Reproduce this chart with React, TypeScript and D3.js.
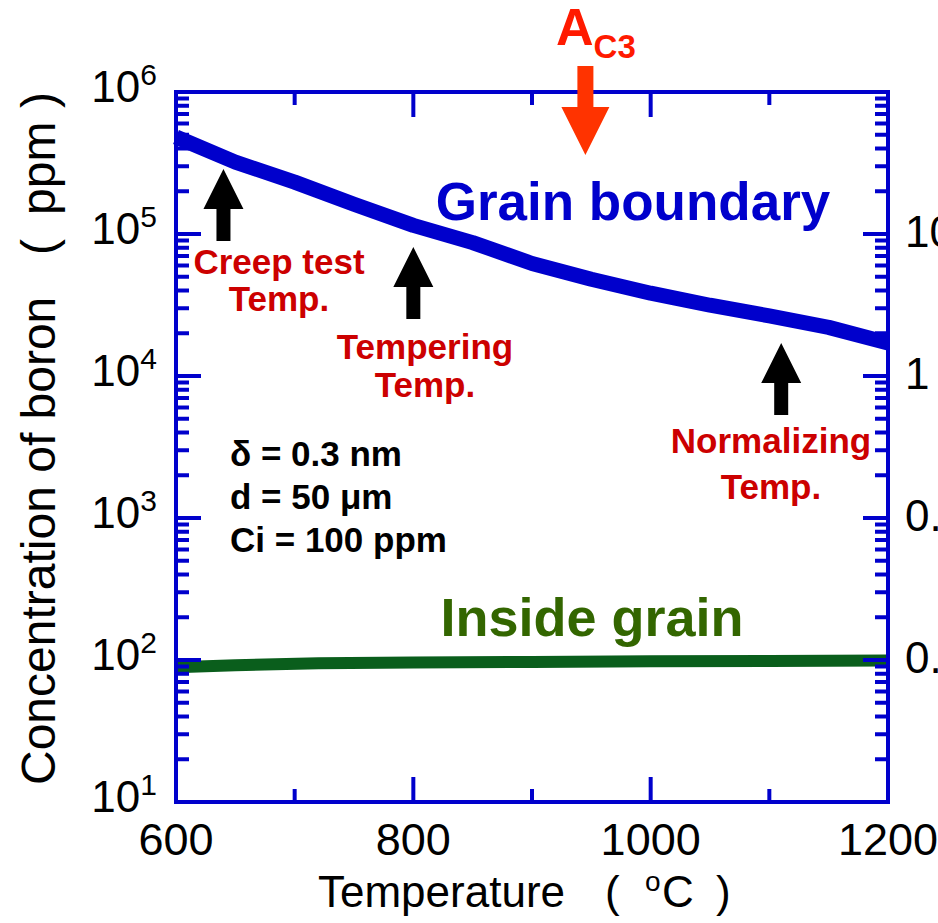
import React from "react";
import * as d3 from "d3";

const gbTemp = [600, 650, 700, 750, 800, 850, 900, 950, 1000, 1050, 1100, 1150, 1200];
const gbConc = [482000, 321000, 232000, 162000, 115000, 87000, 62000, 48000, 38300, 31500, 26500, 22000, 17100];
const igTemp = [600, 650, 720, 800, 900, 1000, 1100, 1200];
const igConc = [89, 92, 95, 96, 97, 98, 98.5, 99];

const xTicks = [600, 800, 1000, 1200];
const xMinorTicks = [700, 900, 1100];
const yExponents = [1, 2, 3, 4, 5, 6];
const rightLabels = [
  { v: 1e5, t: "10" },
  { v: 1e4, t: "1" },
  { v: 1e3, t: "0.1" },
  { v: 1e2, t: "0.01" },
];
const markers = [
  { T: 640, lines: ["Creep test", "Temp."] },
  { T: 800, lines: ["Tempering", "Temp."] },
  { T: 1110, lines: ["Normalizing", "Temp."] },
];
const ac3Temp = 945;
const params = ["δ = 0.3 nm", "d = 50 μm", "Ci = 100 ppm"];

const W = 938, H = 923;
const L = 176, R = 888, T = 92, B = 802;
const BLUE = "#0000cc";

export default function App() {
  const x = d3.scaleLinear().domain([600, 1200]).range([L, R]);
  const y = d3.scaleLog().domain([10, 1e6]).range([B, T]);
  const line = d3.line<[number, number]>().x(d => x(d[0])).y(d => y(d[1]));
  const gbData = gbTemp.map((t, i) => [t, gbConc[i]] as [number, number]);
  const igData = igTemp.map((t, i) => [t, igConc[i]] as [number, number]);

  const yMinor: number[] = [];
  for (let k = 1; k < 6; k++) for (let m = 2; m <= 9; m++) yMinor.push(m * Math.pow(10, k));

  const upArrow = (cx: number, tip: number) => {
    const hw = 20, sw = 7, head = 40, len = 72;
    return `M${cx},${tip} L${cx + hw},${tip + head} L${cx + sw},${tip + head} L${cx + sw},${tip + len} L${cx - sw},${tip + len} L${cx - sw},${tip + head} L${cx - hw},${tip + head} Z`;
  };
  const markerTip = [169, 247, 343];
  const labelBase = [274, 359, 453];
  const labelGap = [37, 38, 46];
  const labelCx = [279, 425, 771];

  const acX = x(ac3Temp);
  const acPath = `M${acX - 8},66 L${acX + 8},66 L${acX + 8},107 L${acX + 24},107 L${acX},155 L${acX - 24},107 L${acX - 8},107 Z`;

  return (
    <svg width={W} height={H} style={{ position: "absolute", left: 0, top: 0, background: "#fff" }}
      fontFamily="Liberation Sans, Arial, sans-serif">
      {/* data lines */}
      <path d={line(igData) || ""} fill="none" stroke="#0a5e1c" strokeWidth={12} />
      <path d={line(gbData) || ""} fill="none" stroke={BLUE} strokeWidth={15} strokeLinejoin="round" />

      {/* frame */}
      <rect x={L} y={T} width={R - L} height={B - T} fill="none" stroke={BLUE} strokeWidth={4} />
      {yExponents.map(k => (
        <g key={"yM" + k}>
          <line x1={L} x2={L + 25} y1={y(Math.pow(10, k))} y2={y(Math.pow(10, k))} stroke={BLUE} strokeWidth={4} />
          <line x1={R} x2={R - 25} y1={y(Math.pow(10, k))} y2={y(Math.pow(10, k))} stroke={BLUE} strokeWidth={4} />
        </g>
      ))}
      {yMinor.map(v => (
        <g key={"ym" + v}>
          <line x1={L} x2={L + 13} y1={y(v)} y2={y(v)} stroke={BLUE} strokeWidth={4} />
          <line x1={R} x2={R - 13} y1={y(v)} y2={y(v)} stroke={BLUE} strokeWidth={4} />
        </g>
      ))}
      {xTicks.map(t => (
        <g key={"xM" + t}>
          <line x1={x(t)} x2={x(t)} y1={B} y2={B - 25} stroke={BLUE} strokeWidth={4} />
          <line x1={x(t)} x2={x(t)} y1={T} y2={T + 25} stroke={BLUE} strokeWidth={4} />
        </g>
      ))}
      {xMinorTicks.map(t => (
        <g key={"xm" + t}>
          <line x1={x(t)} x2={x(t)} y1={B} y2={B - 13} stroke={BLUE} strokeWidth={4} />
          <line x1={x(t)} x2={x(t)} y1={T} y2={T + 13} stroke={BLUE} strokeWidth={4} />
        </g>
      ))}

      {/* tick labels */}
      {xTicks.map(t => (
        <text key={"xl" + t} x={x(t)} y={B + 53} fontSize={45} textAnchor="middle" fill="#000">{t}</text>
      ))}
      {yExponents.map(k => (
        <text key={"yl" + k} x={157} y={y(Math.pow(10, k)) + 10} fontSize={44} textAnchor="end" fill="#000">
          10<tspan fontSize={30} dy={-17}>{k}</tspan>
        </text>
      ))}
      {rightLabels.map(r => (
        <text key={"rl" + r.t} x={905} y={y(r.v) + 13} fontSize={44} fill="#000">{r.t}</text>
      ))}

      {/* axis titles */}
      <text y={907} fontSize={44} fill="#000">
        <tspan x={318}>Temperature</tspan>
        <tspan x={605}>(</tspan>
        <tspan x={645} fontSize={28} dy={-16}>o</tspan>
        <tspan x={662} dy={16}>C</tspan>
        <tspan x={716}>)</tspan>
      </text>
      <g transform="translate(55,785) rotate(-90)">
        <text x={0} y={0} fontSize={48} fill="#000">
          <tspan>Concentration of boron</tspan>
          <tspan x={530}>(</tspan>
          <tspan x={570}>ppm</tspan>
          <tspan x={677}>)</tspan>
        </text>
      </g>

      {/* annotations */}
      <text x={633} y={220} fontSize={53} fontWeight="bold" fill={BLUE} textAnchor="middle">Grain boundary</text>
      <text x={592} y={636} fontSize={54} fontWeight="bold" fill="#336600" textAnchor="middle">Inside grain</text>

      {markers.map((m, i) => (
        <g key={"mk" + i}>
          <path d={upArrow(x(m.T), markerTip[i])} fill="#000" />
          <text x={labelCx[i]} y={labelBase[i]} fontSize={35} fontWeight="bold" fill="#cc0000" textAnchor="middle">{m.lines[0]}</text>
          <text x={labelCx[i]} y={labelBase[i] + labelGap[i]} fontSize={35} fontWeight="bold" fill="#cc0000" textAnchor="middle">{m.lines[1]}</text>
        </g>
      ))}

      {params.map((p, i) => (
        <text key={"p" + i} x={230} y={466 + i * 43} fontSize={35} fontWeight="bold" fill="#000">{p}</text>
      ))}

      <path d={acPath} fill="#ff3300" />
      <text x={556} y={45} fontSize={52} fontWeight="bold" fill="#ff1a00">
        A<tspan fontSize={33} dy={13}>C3</tspan>
      </text>
    </svg>
  );
}
